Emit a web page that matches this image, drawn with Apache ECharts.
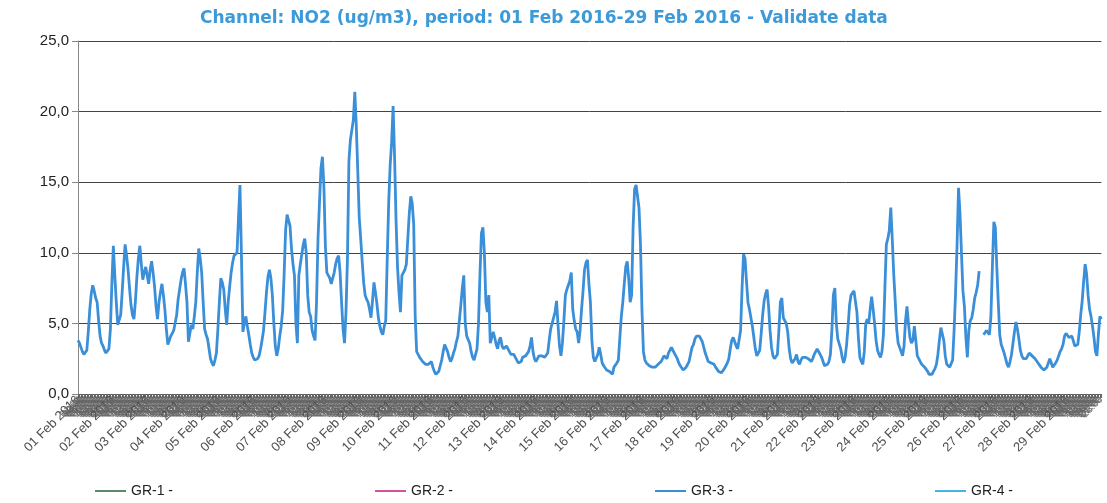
<!DOCTYPE html>
<html>
<head>
    <meta charset="utf-8" />
    <title>NO2 - Feb 2016</title>
    <script src="https://cdn.jsdelivr.net/npm/echarts@6/dist/echarts.min.js"></script>
    <style>
        html, body { margin: 0; padding: 0; background: #fff; }
        #main { width: 1107px; height: 503px; }
    </style>
</head>
<body>
    <div id="main"></div>
    <script type="text/javascript">
        // hourly NO2 values (ug/m3), one line per day
        const gr3 = [
            3.8,3.6,3.3,3.0,2.8,2.9,3.1,4.4,6.0,7.1,7.7,7.3,6.8,6.5,5.2,4.1,3.6,3.4,3.1,2.9,2.8,3.2,4.6,7.8,          // 01
            10.5,8.4,6.5,4.9,4.8,5.6,7.2,9.0,10.6,9.8,8.8,7.5,6.3,5.6,5.3,6.6,8.3,9.6,10.5,9.2,8.1,8.6,9.0,8.4,      // 02
            7.8,8.8,9.4,8.6,7.6,6.2,5.3,6.5,7.2,7.8,7.0,6.0,4.6,3.5,3.8,4.1,4.3,4.5,4.6,5.6,6.7,7.4,8.1,8.6,         // 03
            8.9,7.8,6.5,3.7,4.3,4.9,4.6,5.5,6.5,8.6,10.3,9.6,8.6,6.5,4.6,4.2,3.9,3.2,2.5,2.2,2.0,2.4,2.9,4.6,        // 04
            6.5,8.2,7.9,7.4,6.0,4.9,6.5,7.6,8.6,9.3,9.8,9.9,10.0,12.5,14.8,9.8,4.4,5.0,5.5,4.8,4.2,3.5,2.9,2.6,      // 05
            2.4,2.3,2.5,2.7,3.2,3.8,4.5,5.8,7.2,8.3,8.8,8.2,7.0,5.0,3.4,2.7,3.2,4.1,4.8,5.9,8.5,11.6,12.7,12.3,      // 06
            11.9,10.3,9.2,8.4,5.0,3.6,8.4,9.2,9.9,10.6,11.0,10.0,7.0,5.8,5.5,4.5,4.1,3.8,6.5,11.0,13.5,16.0,16.8,14.7, // 07
            10.5,8.6,8.4,8.2,7.8,7.7,8.6,9.2,9.6,9.8,8.6,6.5,4.6,3.6,5.8,9.6,16.5,18.0,17.9,19.4,21.4,19.0,15.8,12.5, // 08
            11.0,9.4,7.9,7.0,6.7,6.5,6.0,5.4,6.6,7.9,7.2,6.4,5.4,4.8,4.4,4.2,4.8,5.2,9.5,13.5,16.2,17.8,20.4,16.8,   // 09
            12.3,9.0,7.2,5.8,8.4,8.6,8.8,9.2,11.0,12.8,14.0,13.5,12.0,5.5,3.0,2.8,2.6,2.5,2.3,2.3,2.1,2.0,2.1,2.2,   // 10
            2.3,1.9,1.6,1.4,1.4,1.6,2.0,2.4,3.0,3.5,3.6,3.0,2.6,2.3,2.5,2.9,3.2,3.7,4.1,5.2,6.3,7.5,8.4,5.0,         // 11
            4.1,4.0,3.6,3.0,2.6,2.4,2.4,3.2,5.0,8.5,11.4,11.8,10.0,6.5,5.8,7.0,3.6,4.0,4.4,4.0,3.5,3.2,3.8,4.0,      // 12
            3.4,3.2,3.1,3.4,3.2,3.0,2.8,2.7,2.8,2.6,2.4,2.2,2.1,2.3,2.6,2.5,2.7,2.8,3.0,3.4,4.0,3.0,2.5,2.3,         // 13
            2.4,2.7,2.8,2.7,2.6,2.6,2.5,2.9,3.8,4.6,5.0,4.9,5.8,6.6,4.9,3.4,2.7,3.6,5.2,7.0,7.4,7.3,8.0,8.6,         // 14
            6.0,5.2,4.6,4.4,3.6,4.5,6.0,7.3,8.8,9.3,9.5,7.8,6.5,3.8,2.6,2.3,2.3,2.8,3.3,2.8,2.2,2.0,1.9,1.7,         // 15
            1.7,1.6,1.5,1.4,1.9,1.9,2.2,2.4,4.0,5.5,6.5,7.8,9.0,9.4,8.2,6.5,7.0,11.8,14.5,14.8,14.9,13.2,10.6,6.0,   // 16
            3.0,2.4,2.2,2.1,2.0,2.0,1.9,1.9,1.9,2.0,2.1,2.2,2.3,2.4,2.7,2.6,2.5,2.9,3.1,3.3,3.1,2.9,2.8,2.5,         // 17
            2.2,2.0,1.9,1.7,1.8,1.9,2.1,2.3,2.8,3.3,3.5,3.9,4.1,4.2,4.1,3.9,3.7,3.3,2.9,2.6,2.3,2.3,2.2,2.1,         // 18
            2.1,1.9,1.8,1.6,1.5,1.5,1.6,1.8,2.0,2.2,2.5,3.2,3.8,4.0,4.0,3.4,3.2,3.1,4.5,7.5,9.9,9.6,8.0,6.5,         // 19
            6.0,5.4,4.8,4.0,3.2,2.7,2.8,3.1,4.3,5.6,6.6,7.1,7.4,6.2,4.5,3.3,2.7,2.5,2.6,2.8,4.5,6.5,6.8,5.4,         // 20
            5.3,5.0,4.4,3.2,2.5,2.2,2.2,2.5,2.8,2.3,2.1,2.4,2.6,2.5,2.6,2.6,2.5,2.4,2.3,2.5,2.8,3.0,3.2,3.0,         // 21
            2.8,2.6,2.3,2.0,2.0,2.1,2.3,2.8,4.5,7.0,7.5,5.0,3.9,3.8,3.2,2.6,2.2,2.6,3.5,4.8,6.3,7.0,7.1,7.3,         // 22
            7.2,5.8,4.0,2.6,2.3,2.1,3.0,5.0,5.3,5.0,6.0,6.9,6.0,5.0,3.8,3.1,2.8,2.6,3.0,4.2,7.5,10.6,11.0,11.6,      // 23
            13.2,11.0,8.5,6.6,4.6,3.6,3.3,3.0,2.7,3.4,5.2,6.2,5.0,4.0,3.6,3.8,4.8,3.8,2.7,2.5,2.3,2.1,2.0,1.9,       // 24
            1.8,1.6,1.4,1.3,1.4,1.6,1.8,2.1,2.8,3.8,4.7,4.6,3.8,2.7,2.1,2.0,1.9,1.9,2.4,4.5,7.2,10.5,14.6,12.8,      // 25
            10.0,7.3,6.2,4.0,2.6,4.5,5.2,5.4,6.0,6.8,7.2,7.7,8.7,null,null,4.2,4.3,4.5,4.4,4.2,5.5,9.0,12.2,11.8,   // 26
            9.0,6.5,4.2,3.5,3.2,2.9,2.5,2.1,1.9,2.3,2.8,3.6,4.4,5.1,4.6,3.9,3.1,2.7,2.5,2.4,2.5,2.7,2.9,3.0,         // 27
            2.7,2.6,2.5,2.4,2.2,2.1,1.9,1.8,1.7,1.8,1.9,2.2,2.5,2.2,1.9,2.0,2.2,2.4,2.7,3.0,3.2,3.5,4.1,4.3,         // 28
            4.3,4.0,4.0,4.1,4.0,3.4,3.3,3.5,4.4,5.6,6.6,8.0,9.2,8.5,7.0,6.0,5.5,4.8,4.0,3.0,2.7,4.2,5.5,5.3          // 29
        ];

        const dayCount = 29;
        const seriesNames = ['GR-1 -', 'GR-2 -', 'GR-3 -', 'GR-4 -'];
        const seriesColors = ['#5a8a6e', '#d2529e', '#3a8fd8', '#48b2e4'];
        const yTicks = [0, 5, 10, 15, 20, 25];

        // one category per hour; the day start gets the full date
        const categories = [];
        for (let d = 1; d <= dayCount; d++) {
            const dd = (d < 10 ? '0' : '') + d;
            for (let h = 0; h < 24; h++) {
                const hh = (h < 10 ? '0' : '') + h;
                categories.push(h === 0 ? dd + ' Feb 2016' : hh + ':00');
            }
        }

        var chart = echarts.init(document.getElementById('main'));

        var option = {
            animation: false,
            backgroundColor: '#fff',
            title: {
                text: 'Channel: NO2 (ug/m3), period: 01 Feb 2016-29 Feb 2016 - Validate data',
                left: 195,
                top: 5,
                textStyle: {
                    fontFamily: 'DejaVu Sans',
                    fontSize: 17,
                    fontWeight: 'bold',
                    color: '#3d9ad8'
                }
            },
            legend: {
                data: seriesNames,
                left: 95,
                top: 484,
                padding: 0,
                icon: 'rect',
                itemWidth: 31,
                itemHeight: 2,
                itemGap: 202,
                textStyle: {
                    fontFamily: 'Liberation Sans, Arial',
                    fontSize: 14,
                    color: '#222'
                }
            },
            grid: {
                left: 78,
                top: 41,
                width: 1033,
                height: 353
            },
            xAxis: {
                type: 'category',
                data: categories,
                boundaryGap: false,
                axisLine: { lineStyle: { color: '#555', width: 1 } },
                axisTick: { interval: 0, length: 4, lineStyle: { color: '#666' } },
                axisLabel: {
                    interval: 0,
                    rotate: 45,
                    margin: 4,
                    fontFamily: 'Liberation Sans, Arial',
                    formatter: v => v.length > 5 ? '{d|' + v + '}' : '{h|' + v + '}',
                    rich: {
                        d: { fontSize: 13, color: '#505050', fontFamily: 'Liberation Sans, Arial' },
                        h: { fontSize: 10, color: '#666', fontFamily: 'Liberation Sans, Arial' }
                    }
                },
                splitLine: { show: false }
            },
            yAxis: {
                type: 'value',
                min: yTicks[0],
                max: yTicks[yTicks.length - 1],
                interval: 5,
                axisLine: { show: true, lineStyle: { color: '#888' } },
                axisTick: { show: true, length: 6, lineStyle: { color: '#888' } },
                axisLabel: {
                    margin: 9,
                    fontFamily: 'Liberation Sans, Arial',
                    fontSize: 15,
                    color: '#222',
                    formatter: v => v.toFixed(1).replace('.', ',')
                },
                splitLine: { lineStyle: { color: '#444', width: 1 } }
            },
            series: seriesNames.map((name, i) => ({
                name: name,
                type: 'line',
                data: i === 2 ? gr3 : [],
                showSymbol: false,
                symbol: 'none',
                connectNulls: false,
                color: seriesColors[i],
                lineStyle: { width: 2.8, color: seriesColors[i] }
            }))
        };

        chart.setOption(option);
    </script>
</body>
</html>
